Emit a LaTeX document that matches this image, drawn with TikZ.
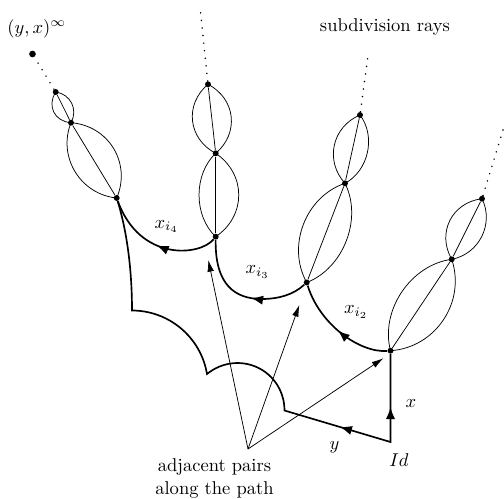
\documentclass[tikz,border=0pt]{standalone}
\usetikzlibrary{calc,arrows.meta,decorations.markings}
\tikzset{
  thinline/.style={line width=0.4pt},
  pathline/.style={line width=0.9pt},
  dot/.style={circle,fill=black,inner sep=0pt,minimum size=3.2pt},
  bigdot/.style={circle,fill=black,inner sep=0pt,minimum size=3.6pt},
  rayline/.style={line width=0.9pt,dash pattern=on 0.01pt off 4.1pt,line cap=round},
  midarrow/.style={postaction={decorate,decoration={markings,mark=at position #1 with {\arrow{Latex[length=6.5pt,width=5pt]}}}}},
  pointer/.style={line width=0.4pt,-{Latex[length=6.3pt,width=3.6pt]}},
  lbl/.style={inner sep=0pt}
}
\newcommand\lensdraw[4]{%
  \draw[thinline] (#1) -- (#2);
  \draw[thinline] (#1.center) .. controls ($(#1.center)!0.25!(#2.center)!#3!90:(#2.center)$) and ($(#1.center)!0.75!(#2.center)!#3!90:(#2.center)$) .. (#2.center);
  \draw[thinline] (#1.center) .. controls ($(#1.center)!0.25!(#2.center)!#4!-90:(#2.center)$) and ($(#1.center)!0.75!(#2.center)!#4!-90:(#2.center)$) .. (#2.center);
}
\begin{document}
\begin{tikzpicture}[x=0.54pt,y=-0.54pt]
\useasboundingbox (0,0) rectangle (504,499);

% vertices
\node[dot] (A2) at (390.5,350.7) {};
\node[dot] (B2) at (451.7,259.3) {};
\node[dot] (C2) at (482,198.7) {};
\coordinate (R2) at (503,130);
\node[dot] (A3) at (306.7,282.5) {};
\node[dot] (B3) at (345,183.3) {};
\node[dot] (C3) at (360,115) {};
\coordinate (R3) at (368.3,53.3);
\node[dot] (A4) at (215.7,236.7) {};
\node[dot] (B4) at (215.7,153.3) {};
\node[dot] (C4) at (208,84.3) {};
\coordinate (R4) at (200,7);
\node[dot] (A5) at (116.7,198) {};
\node[dot] (B5) at (71,122.7) {};
\node[dot] (C5) at (55.7,92) {};
\node[bigdot] (R5) at (32.5,54) {};

\coordinate (Id) at (390.5,442);
\coordinate (P1) at (284.5,410.5);
\coordinate (K) at (207,374);
\coordinate (P3) at (132,310.5);
\coordinate (Ap) at (248,449);
\coordinate (T1) at (208.3,260);
\coordinate (T2) at (299.3,305);
\coordinate (T3) at (383.3,358.3);

% lenses
\lensdraw{A2}{B2}{16.8pt}{19.3pt}
\lensdraw{B2}{C2}{13.7pt}{12pt}
\lensdraw{A3}{B3}{17.3pt}{15.8pt}
\lensdraw{B3}{C3}{13.4pt}{11pt}
\lensdraw{A4}{B4}{12pt}{16.6pt}
\lensdraw{B4}{C4}{14pt}{14pt}
\lensdraw{A5}{B5}{15.8pt}{16.6pt}
\lensdraw{B5}{C5}{7.7pt}{6.7pt}

% rays
\draw[rayline] (C2) -- (R2);
\draw[rayline] (C3) -- (R3);
\draw[rayline] (C4) -- (R4);
\draw[rayline] (C5) -- (R5);

% thick path
\draw[pathline,postaction={decorate,decoration={markings,
   mark=at position 28.6pt with {\arrowreversed{Latex[length=6.5pt,width=5pt]}},
   mark=at position 76pt with {\arrow{Latex[length=6.5pt,width=5pt]}}}}]
  (A2) -- (Id) -- (P1)
  .. controls (284.5,391.7) and (273.9,375.1) .. (257.4,367.4)
  .. controls (240.8,359.7) and (221.3,362.3) .. (K)
  .. controls (200.9,337.4) and (169.1,310.5) .. (P3)
  .. controls (132,262) and (125,225) .. (A5);

\draw[pathline,midarrow=0.5] (A2) .. controls (360,353) and (320,325) .. (A3);
\draw[pathline,midarrow=0.43] (A3) .. controls (293,295) and (278,299) .. (262,299)
  .. controls (235,299) and (215,285) .. (A4);
\draw[pathline,midarrow=0.5] (A4) .. controls (200,256) and (140,262) .. (A5);

% pointers
\draw[pointer] (Ap) -- (T1);
\draw[pointer] (Ap) -- (T2);
\draw[pointer] (Ap) -- (T3);

% labels
\node[lbl] (tyx) at (36.7,28.7) {$(y,x)^\infty$};
\node[lbl] (tsub) at (385,27) {subdivision rays};
\node[lbl] (ti4) at (166.5,226.5) {$x_{i_4}$};
\node[lbl] (ti3) at (257.5,272) {$x_{i_3}$};
\node[lbl] (ti2) at (356,312) {$x_{i_2}$};
\node[lbl] (tx) at (411,403.5) {$x$};
\node[lbl] (ty) at (334.5,447) {$y$};
\node[lbl] (tId) at (399,459.7) {$Id$};
\node[lbl,align=center] (tadj) at (214.5,478.5) {adjacent pairs\\along the path};
\end{tikzpicture}
\end{document}
